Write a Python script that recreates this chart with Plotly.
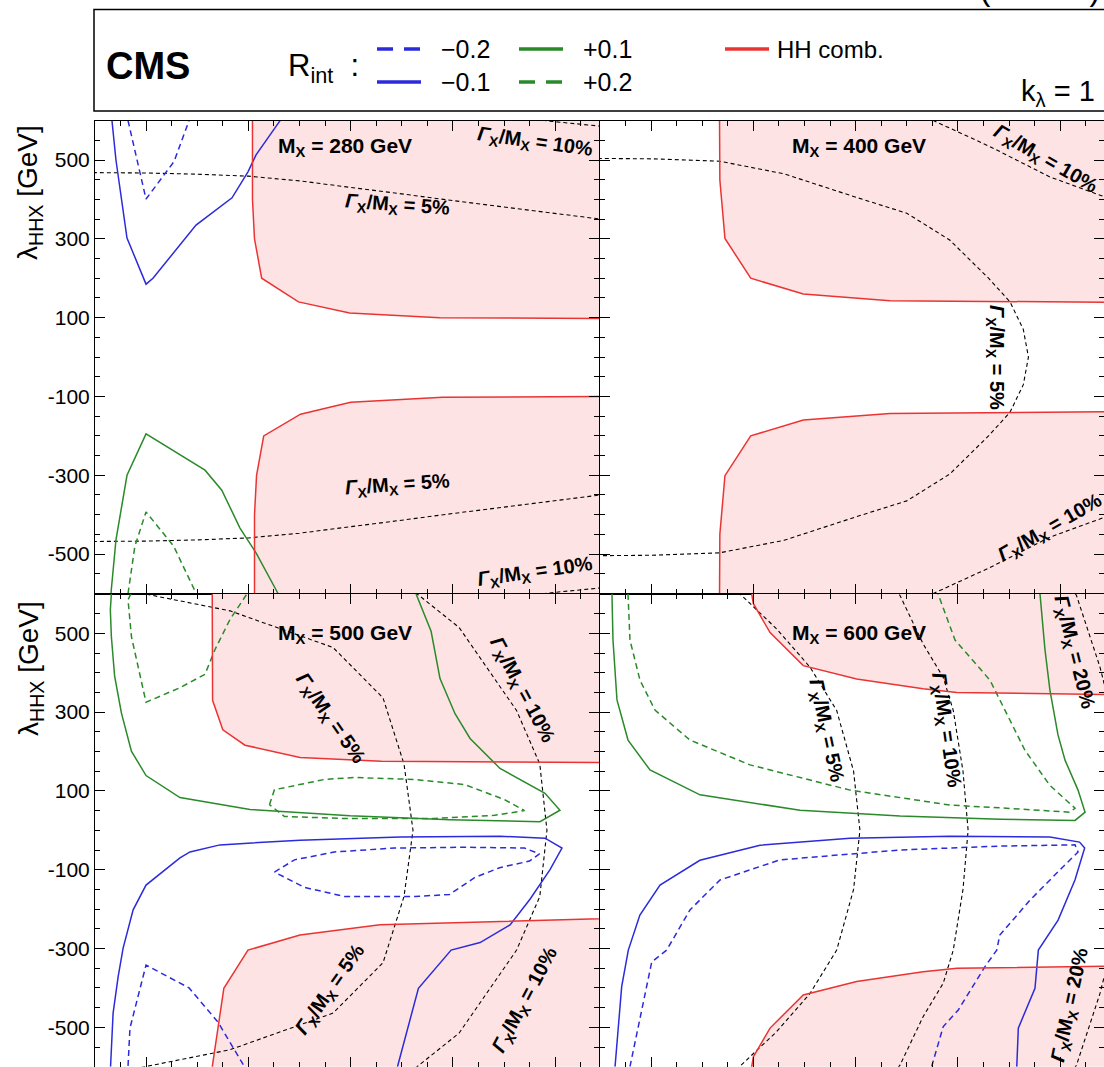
import plotly.graph_objects as go

# ---------------- data (x: coupling-like variable, y: lambda_HHX in GeV) ----------------
# Panel M_X = 280 GeV
P280_RED_UP_X = [0.204, 0.204, 0.206, 0.213, 0.249, 0.299, 0.387, 0.60]
P280_RED_UP_Y = [700, 400, 300, 200, 140, 112, 100, 97]
P280_RED_DN_X = [0.206, 0.206, 0.208, 0.215, 0.251, 0.300, 0.390, 0.60]
P280_RED_DN_Y = [-700, -400, -300, -200, -145, -115, -102, -99]
P280_BLUE1_X = [0.0666, 0.0705, 0.0813, 0.0999, 0.1067, 0.1488, 0.184, 0.1996, 0.2075, 0.231]
P280_BLUE1_Y = [600, 500, 302, 185, 200, 335, 404, 470, 513, 600]
P280_BLUE2_X = [0.0823, 0.0999, 0.1273, 0.142]
P280_BLUE2_Y = [600, 401, 496, 600]
P280_GREEN1_X = [0.0656, 0.0705, 0.0813, 0.0999, 0.1576, 0.174, 0.1918, 0.2075, 0.229]
P280_GREEN1_Y = [-600, -464, -300, -195, -287, -338, -434, -497, -600]
P280_GREEN2_X = [0.0823, 0.089, 0.0999, 0.127, 0.137, 0.149]
P280_GREEN2_Y = [-600, -480, -393, -480, -535, -600]
P280_W5_X = [0.00, 0.05, 0.10, 0.15, 0.20, 0.25, 0.30, 0.35, 0.40, 0.45, 0.50, 0.56]
P280_W5_Y = [469, 468, 467, 464, 459, 447, 431, 414, 397, 381, 364, 345]
P280_W10_X = [0.44, 0.50, 0.544, 0.56]
P280_W10_Y = [615, 597, 586, 580]

# Panel M_X = 400 GeV
P400_RED_UP_X = [0.1667, 0.1672, 0.1722, 0.1974, 0.2488, 0.3336, 0.60]
P400_RED_UP_Y = [700, 450, 301, 200, 160, 143, 138]
P400_W5_X = [0.00, 0.05, 0.10, 0.1667, 0.23, 0.301, 0.35, 0.392, 0.43, 0.451, 0.464, 0.469]
P400_W5_Y = [505, 504, 503, 497, 465, 405, 365, 297, 200, 140, 70, 0]
P400_W10_X = [0.33, 0.376, 0.4314, 0.49, 0.543, 0.57]
P400_W10_Y = [640, 600, 534, 457, 407, 380]

# Panel M_X = 500 GeV
P500_RED_UP_X = [0.1645, 0.1650, 0.175, 0.1967, 0.2505, 0.33, 0.60]
P500_RED_UP_Y = [700, 330, 255, 216, 185, 175, 171]
P500_RED_DN_X = [0.1645, 0.1648, 0.176, 0.1996, 0.2505, 0.3287, 0.60]
P500_RED_DN_Y = [-700, -598, -401, -304, -266, -240, -220]
P500_BLUE1_X = [0.0652, 0.0677, 0.0726, 0.0775, 0.0873, 0.0999, 0.1331, 0.1429, 0.1722, 0.2505,
                0.3483, 0.4461, 0.4901, 0.5067, 0.4950, 0.4754, 0.4559, 0.4266, 0.3983, 0.3663, 0.3458]
P500_BLUE1_Y = [-600, -464, -372, -299, -202, -139, -70, -55, -37, -25, -17, -15, -20, -45,
                -100, -175, -240, -285, -304, -401, -600]
P500_BLUE2_X = [0.2255, 0.2451, 0.2842, 0.3429, 0.4114, 0.4701, 0.4847, 0.4750, 0.4456, 0.4212,
                0.3967, 0.3625, 0.2940, 0.2549, 0.2255]
P500_BLUE2_Y = [-106, -75, -55, -45, -43, -45, -60, -78, -95, -120, -163, -168, -168, -145, -106]
P500_BLUE3_X = [0.0823, 0.0842, 0.0999, 0.142, 0.1703, 0.1957]
P500_BLUE3_Y = [-598, -502, -342, -400, -487, -598]
P500_GREEN1_X = [0.0660, 0.0650, 0.0660, 0.0692, 0.0758, 0.0856, 0.0999, 0.1331, 0.2016, 0.2994,
                 0.3972, 0.4852, 0.5047, 0.4901, 0.4461, 0.4168, 0.4021, 0.3874, 0.3787, 0.3640]
P500_GREEN1_Y = [600, 560, 492, 391, 298, 201, 139, 83, 53, 37, 27, 22, 51, 94, 157, 233, 296, 385,
                 505, 600]
P500_GREEN2_X = [0.0850, 0.0823, 0.0856, 0.0999, 0.1331, 0.1576, 0.1674, 0.1820, 0.1986]
P500_GREEN2_Y = [600, 585, 492, 325, 362, 396, 459, 535, 600]
P500_GREEN3_X = [0.2206, 0.2255, 0.2744, 0.3038, 0.3625, 0.4114, 0.4505, 0.4701, 0.4407, 0.3820,
                 0.2940, 0.2353, 0.2206]
P500_GREEN3_Y = [65, 103, 129, 134, 129, 116, 78, 50, 38, 30, 30, 35, 65]
P500_W5_X = [0.06, 0.0989, 0.182, 0.2828, 0.3317, 0.3522, 0.361]
P500_W5_Y = [620, 600, 557, 464, 336, 168, 0]
P500_W10_X = [0.34, 0.365, 0.406, 0.4623, 0.485, 0.492]
P500_W10_Y = [640, 600, 515, 304, 168, 0]

# Panel M_X = 600 GeV
P600_RED_UP_X = [0.197, 0.200, 0.2163, 0.2488, 0.301, 0.366, 0.399, 0.60]
P600_RED_UP_Y = [620, 575, 502, 418, 384, 359, 350, 343]
P600_W5_X = [0.17, 0.1886, 0.2228, 0.2554, 0.2815, 0.298, 0.3042]
P600_W5_Y = [640, 596, 511, 414, 304, 150, 0]
P600_W10_X = [0.33, 0.3434, 0.366, 0.3857, 0.3955, 0.405, 0.41]
P600_W10_Y = [640, 596, 473, 388, 304, 150, 0]
P600_W20_X = [0.50, 0.516, 0.539, 0.55, 0.56]
P600_W20_Y = [660, 596, 414, 300, 0]
P600_BLUE1_X = [0.0647, 0.0712, 0.0777, 0.089, 0.1087, 0.1477, 0.2065, 0.2945, 0.392, 0.49, 0.519,
                0.524, 0.5145, 0.498, 0.4787, 0.4754, 0.4591, 0.4576]
P600_BLUE1_Y = [-600, -397, -304, -215, -139, -76, -38, -20, -15, -17, -30, -45, -126, -228, -304,
                -401, -502, -600]
P600_BLUE2_X = [0.0793, 0.1006, 0.1152, 0.138, 0.1674, 0.226, 0.3434, 0.441, 0.5146, 0.5175, 0.50,
                0.4706, 0.441, 0.438, 0.4265, 0.4004, 0.3857, 0.3743]
P600_BLUE2_Y = [-600, -334, -304, -202, -126, -75, -50, -40, -37, -55, -100, -177, -266, -304, -346,
                -456, -498, -600]
P600_GREEN1_X = [0.0617, 0.0627, 0.0666, 0.0774, 0.0989, 0.1478, 0.2456, 0.3434, 0.4412, 0.5146,
                 0.5244, 0.5175, 0.5048, 0.4979, 0.49, 0.4852, 0.4803]
P600_GREEN1_Y = [600, 483, 331, 229, 153, 90, 51, 36, 28, 25, 46, 102, 178, 242, 356, 458, 600]
P600_GREEN2_X = [0.0774, 0.0793, 0.0891, 0.1038, 0.138, 0.1967, 0.2945, 0.3923, 0.4412, 0.5096,
                 0.5146, 0.49, 0.4656, 0.446, 0.4314, 0.3972, 0.3806]
P600_GREEN2_Y = [600, 483, 381, 305, 229, 166, 102, 64, 57, 46, 56, 114, 203, 305, 381, 483, 600]

PANEL_MASSES = ["280", "400", "500", "600"]
Y_TICKS = [-500, -300, -100, 100, 300, 500]
Y_TICK_TEXT = ["-500", "-300", "-100", "100", "300", "500"]
LEGEND_LABELS = ["\u22120.2", "\u22120.1", "+0.1", "+0.2", "HH comb."]

# ---------------- style ----------------
BLUE = "#2b2bdc"
GREEN = "#2a8a2a"
RED = "#ea3434"
PINK = "#fde3e3"
FONT = "Liberation Sans"
XR = [0.05, 0.5429]
YR = [-600, 600]

fig = go.Figure()


def neg(v):
    return [-a for a in v]


def mirror(xs, ys):
    # closed curve symmetric about y = 0 (upper half given from top to y=0)
    return xs + xs[-2::-1], ys + [-a for a in ys[-2::-1]]


def add_line(ax, xs, ys, color, dash="solid", width=1.5):
    fig.add_trace(go.Scatter(x=xs, y=ys, mode="lines", xaxis="x" + ax, yaxis="y" + ax,
                             line=dict(color=color, dash=dash, width=width),
                             hoverinfo="skip", showlegend=False))


def add_region(ax, xs, ys, cap):
    fig.add_trace(go.Scatter(x=xs + [0.7, 0.7], y=ys + [ys[-1], cap], mode="lines", fill="toself",
                             fillcolor=PINK, line=dict(width=0), xaxis="x" + ax, yaxis="y" + ax,
                             hoverinfo="skip", showlegend=False))


BD = "4px,3px"
CD = "6px,4px"

# --- panel 1 (280)
add_region("", P280_RED_UP_X, P280_RED_UP_Y, 700)
add_region("", P280_RED_DN_X, P280_RED_DN_Y, -700)
add_line("", P280_W5_X, P280_W5_Y, "black", BD, 1.1)
add_line("", P280_W5_X, neg(P280_W5_Y), "black", BD, 1.1)
add_line("", P280_W10_X, P280_W10_Y, "black", BD, 1.1)
add_line("", P280_W10_X, neg(P280_W10_Y), "black", BD, 1.1)
add_line("", P280_BLUE1_X, P280_BLUE1_Y, BLUE)
add_line("", P280_BLUE2_X, P280_BLUE2_Y, BLUE, CD)
add_line("", P280_GREEN1_X, P280_GREEN1_Y, GREEN)
add_line("", P280_GREEN2_X, P280_GREEN2_Y, GREEN, CD)
add_line("", P280_RED_UP_X, P280_RED_UP_Y, RED)
add_line("", P280_RED_DN_X, P280_RED_DN_Y, RED)

# --- panel 2 (400)
add_region("2", P400_RED_UP_X, P400_RED_UP_Y, 700)
add_region("2", P400_RED_UP_X, neg(P400_RED_UP_Y), -700)
x5, y5 = mirror(P400_W5_X, P400_W5_Y)
add_line("2", x5, y5, "black", BD, 1.1)
add_line("2", P400_W10_X, P400_W10_Y, "black", BD, 1.1)
add_line("2", P400_W10_X, neg(P400_W10_Y), "black", BD, 1.1)
add_line("2", P400_RED_UP_X, P400_RED_UP_Y, RED)
add_line("2", P400_RED_UP_X, neg(P400_RED_UP_Y), RED)

# --- panel 3 (500)
add_region("3", P500_RED_UP_X, P500_RED_UP_Y, 700)
add_region("3", P500_RED_DN_X, P500_RED_DN_Y, -700)
x5, y5 = mirror(P500_W5_X, P500_W5_Y)
add_line("3", x5, y5, "black", BD, 1.1)
x10, y10 = mirror(P500_W10_X, P500_W10_Y)
add_line("3", x10, y10, "black", BD, 1.1)
add_line("3", P500_BLUE1_X, P500_BLUE1_Y, BLUE)
add_line("3", P500_BLUE2_X, P500_BLUE2_Y, BLUE, CD)
add_line("3", P500_BLUE3_X, P500_BLUE3_Y, BLUE, CD)
add_line("3", P500_GREEN1_X, P500_GREEN1_Y, GREEN)
add_line("3", P500_GREEN2_X, P500_GREEN2_Y, GREEN, CD)
add_line("3", P500_GREEN3_X, P500_GREEN3_Y, GREEN, CD)
add_line("3", P500_RED_UP_X, P500_RED_UP_Y, RED)
add_line("3", P500_RED_DN_X, P500_RED_DN_Y, RED)

# --- panel 4 (600)
add_region("4", P600_RED_UP_X, P600_RED_UP_Y, 700)
add_region("4", P600_RED_UP_X, neg(P600_RED_UP_Y), -700)
for wx, wy in [(P600_W5_X, P600_W5_Y), (P600_W10_X, P600_W10_Y), (P600_W20_X, P600_W20_Y)]:
    mx, my = mirror(wx, wy)
    add_line("4", mx, my, "black", BD, 1.1)
add_line("4", P600_BLUE1_X, P600_BLUE1_Y, BLUE)
add_line("4", P600_BLUE2_X, P600_BLUE2_Y, BLUE, CD)
add_line("4", P600_GREEN1_X, P600_GREEN1_Y, GREEN)
add_line("4", P600_GREEN2_X, P600_GREEN2_Y, GREEN, CD)
add_line("4", P600_RED_UP_X, P600_RED_UP_Y, RED)
add_line("4", P600_RED_UP_X, neg(P600_RED_UP_Y), RED)

# ---------------- axes ----------------
W, H = 1104, 1067
xl = [95 / W, 599 / W]
xr = [600 / W, 1.0]
yt = [1 - 593.5 / H, 1 - 120.6 / H]
yb = [1 - 1066.7 / H, 1 - 593.9 / H]

common_x = dict(range=XR, showgrid=False, zeroline=False, showline=True, linecolor="black",
                linewidth=1, mirror="ticks", ticks="inside", ticklen=10, tickcolor="black",
                tick0=0.1, dtick=0.1, showticklabels=False,
                minor=dict(ticks="inside", ticklen=5, tick0=0.1, dtick=0.025, tickcolor="black",
                           showgrid=False))
common_y = dict(range=YR, showgrid=False, zeroline=False, showline=True, linecolor="black",
                linewidth=1, mirror="ticks", ticks="inside", ticklen=10, tickcolor="black",
                tickvals=Y_TICKS, ticktext=Y_TICK_TEXT,
                tickfont=dict(family=FONT, size=21, color="black"),
                minor=dict(ticks="inside", ticklen=5, tick0=0, dtick=50, tickcolor="black",
                           showgrid=False))

fig.update_layout(
    width=W, height=H, margin=dict(l=0, r=0, t=0, b=0),
    paper_bgcolor="white", plot_bgcolor="rgba(0,0,0,0)",
    xaxis=dict(domain=xl, anchor="y", **common_x),
    yaxis=dict(domain=yt, anchor="x", showticklabels=True, **common_y),
    xaxis2=dict(domain=xr, anchor="y2", **common_x),
    yaxis2=dict(domain=yt, anchor="x2", showticklabels=False, **common_y),
    xaxis3=dict(domain=xl, anchor="y3", **common_x),
    yaxis3=dict(domain=yb, anchor="x3", showticklabels=True, **common_y),
    xaxis4=dict(domain=xr, anchor="y4", **common_x),
    yaxis4=dict(domain=yb, anchor="x4", showticklabels=False, **common_y),
)

ann = []


def txt(px, py, text, size=18, angle=0, xanchor="center", yanchor="middle"):
    ann.append(dict(x=px / W, y=1 - py / H, xref="paper", yref="paper", text=text,
                    showarrow=False, textangle=angle, xanchor=xanchor, yanchor=yanchor,
                    font=dict(family=FONT, size=size, color="black")))


G5 = "<b><i>\u0393</i><sub>X</sub>/M<sub>X</sub> = 5%</b>"
G10 = "<b><i>\u0393</i><sub>X</sub>/M<sub>X</sub> = 10%</b>"
G20 = "<b><i>\u0393</i><sub>X</sub>/M<sub>X</sub> = 20%</b>"
GS = 20

# panel titles
for (px, py), m in zip([(345, 147), (859, 147), (345, 634), (859, 634)], PANEL_MASSES):
    txt(px, py, "<b>M<sub>X</sub> = " + m + " GeV</b>", size=21)

# width labels
txt(535, 143, G10, GS, 8)
txt(397, 205, G5, GS, 4)
txt(397, 485, G5, GS, -4)
txt(535, 572, G10, GS, -8)
txt(1045, 160, G10, GS, 30)
txt(996, 357, G5, GS, 90)
txt(1050, 528, G10, GS, -30)
txt(330, 718, G5, GS, 55)
txt(522, 690, G10, GS, 62)
txt(330, 990, G5, GS, -55)
txt(525, 1000, G10, GS, -62)
txt(826, 730, G5, GS, 78)
txt(946, 730, G10, GS, 82)
txt(1074, 652, G20, GS, 76)
txt(1070, 1005, G20, GS, -78)

# axis titles
txt(30, 193, "\u03bb<sub>HHX</sub> [GeV]", 28, -90)
txt(30, 669, "\u03bb<sub>HHX</sub> [GeV]", 28, -90)

# header box
fig.add_shape(type="rect", xref="paper", yref="paper", x0=94 / W, x1=1.02, y0=1 - 111 / H,
              y1=1 - 9.5 / H, line=dict(color="black", width=1.5), fillcolor="rgba(0,0,0,0)")
txt(104, 66, "<b>CMS</b>", 38, 0, "left")
txt(286, 68, "R<sub>int</sub>\u00a0\u00a0:", 31, 0, "left")
samples = [(377, 49, BLUE, "dash"), (377, 82, BLUE, "solid"), (519, 49, GREEN, "solid"),
           (519, 82, GREEN, "dash"), (725, 49, RED, "solid")]
for (sx, sy, col, dsh), lab in zip(samples, LEGEND_LABELS):
    fig.add_shape(type="line", xref="paper", yref="paper", x0=sx / W, x1=(sx + 44) / W,
                  y0=1 - sy / H, y1=1 - sy / H, line=dict(color=col, width=3.5,
                  dash=("16px,11px" if dsh == "dash" else "solid")))
    txt(sx + 62 if lab != "HH comb." else sx + 50, sy, lab, 25 if lab != "HH comb." else 24,
        0, "left")
txt(1019, 93, "k<sub>\u03bb</sub> = 1", 29, 0, "left")
txt(1102, 9, "138 fb<sup>-1</sup> (13 TeV)", 32, 0, "right", "bottom")

fig.update_layout(annotations=ann)
fig.write_html("out.html")
